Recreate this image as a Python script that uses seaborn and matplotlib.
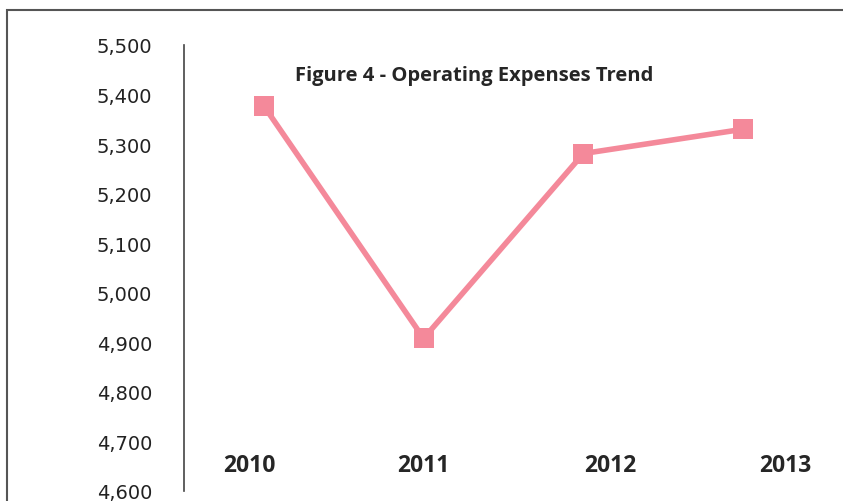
import matplotlib
matplotlib.use("Agg")
import matplotlib.pyplot as plt
from matplotlib.patches import Rectangle
import seaborn as sns
import pandas as pd

years = ["2010", "2011", "2012", "2013"]
expenses = [5377, 4908, 5281, 5330]
yticks = [4600, 4700, 4800, 4900, 5000, 5100, 5200, 5300, 5400, 5500]
# horizontal nudges of the year labels relative to their category (category units)
label_shift = [-0.093, -0.004, 0.167, 0.262]

sns.set_style("white")
plt.rcParams["font.family"] = ["DejaVu Sans"]

W, H = 843, 502
fig = plt.figure(figsize=(W / 100, H / 100), dpi=100)
ax = fig.add_axes([184 / W, 1 - 492 / H, (823 - 184) / W, (492 - 46) / H])

df = pd.DataFrame({"year": years, "value": expenses})
sns.lineplot(data=df, x="year", y="value", ax=ax, color="#F4899A",
             linewidth=4, marker="s", markersize=14, markeredgewidth=0)

ax.set_xlim(-0.5, 3.5)
ax.set_ylim(4600, 5500)
ax.set_yticks(yticks)
ax.set_yticklabels([f"{v:,}" for v in yticks], fontsize=14, color="#222222")
ax.tick_params(axis="y", length=0, pad=23)
ax.set_xticks([])
ax.set_xlabel("")
ax.set_ylabel("")
for s in ["top", "right", "bottom"]:
    ax.spines[s].set_visible(False)
ax.spines["left"].set_color("#444444")
ax.spines["left"].set_linewidth(1.2)

for i, y in enumerate(years):
    ax.text(i + label_shift[i], 4652, y, ha="center", va="center", fontsize=16.5,
            fontweight="bold", family=["Open Sans", "DejaVu Sans"], color="#262626")

fig.text(474 / W, 1 - 76 / H, "Figure 4 - Operating Expenses Trend",
         ha="center", va="center", fontsize=14.5, fontweight="bold",
         family=["Open Sans", "DejaVu Sans"], color="#262626")

fig.patches.append(Rectangle((7 / W, -0.1), 1.2, 1 - 11 / H + 0.1,
                             transform=fig.transFigure, fill=False,
                             edgecolor="#555555", linewidth=1.5))

fig.savefig("out.png", dpi=100)
